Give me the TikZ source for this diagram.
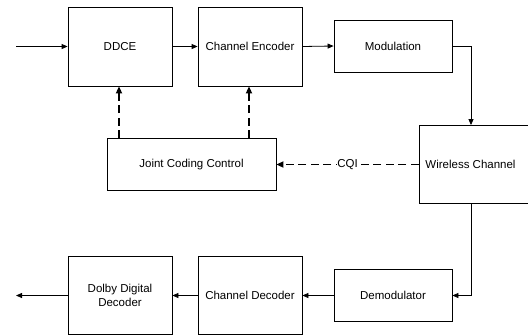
\documentclass[tikz,border=0pt]{standalone}
\usepackage{fontspec}
\setmainfont{Liberation Sans}
\usetikzlibrary{arrows.meta,positioning}

\begin{document}
\begin{tikzpicture}[x=1pt, y=1pt, >={Triangle[length=6pt,width=5pt]},
  blk/.style={draw, line width=0.8pt, inner sep=0pt, align=center,
    font=\fontsize{11.5}{13.4}\selectfont},
  ln/.style={->, line width=0.8pt},
  ctl/.style={->, line width=1.8pt, dash pattern=on 8pt off 4.5pt,
    >={Triangle[length=7pt,width=6pt]}}]
  \useasboundingbox (0,0) rectangle (528,-335);
  % transmitter
  \node[blk, minimum width=104, minimum height=79] (ddce) at (120,-46.5) {DDCE};
  \node[blk, minimum width=104, minimum height=79] (enc) at (250,-46.5) {Channel Encoder};
  \node[blk, minimum width=118, minimum height=52] (mod) at (393,-46) {Modulation};
  \node[blk, minimum width=112, minimum height=78] (wc) at (475,-164.5) {Wireless Channel\hspace{9pt}};
  \node[blk, minimum width=169, minimum height=52] (jcc) at (191.5,-164.5) {Joint Coding Control};
  % receiver
  \node[blk, minimum width=118, minimum height=52] (dem) at (393,-295.5) {Demodulator};
  \node[blk, minimum width=104, minimum height=78] (dec) at (250,-295.5) {Channel Decoder};
  \node[blk, minimum width=104, minimum height=78] (dolby) at (120,-295.5) {Dolby Digital\\Decoder};
  \coordinate (in) at (16,-46.5);
  \coordinate (out) at (16,-295.5);
  \draw[ln] (in) -- (ddce);
  \draw[ln] (ddce) -- (enc);
  \draw[ln] (enc.east) -- (mod.west);
  \draw[ln] (mod.east) -| ([xshift=-4pt]wc.north);
  \draw[ln] ([xshift=-4pt]wc.south) |- (dem.east);
  \draw[ln] (dem.west) -- (dec.east);
  \draw[ln] (dec.west) -- (dolby.east);
  \draw[ln] (dolby.west) -- (out);
  % feedback
  \draw[ctl] (wc.west) -- node[fill=white, inner sep=0.3pt, font=\fontsize{11.5}{13.4}\selectfont]{CQI} (jcc.east);
  \draw[ctl] ([xshift=-1pt]ddce.south |- jcc.north) -- ([xshift=-1pt]ddce.south);
  \draw[ctl] ([xshift=-1pt]enc.south |- jcc.north) -- ([xshift=-1pt]enc.south);
\end{tikzpicture}
\end{document}
